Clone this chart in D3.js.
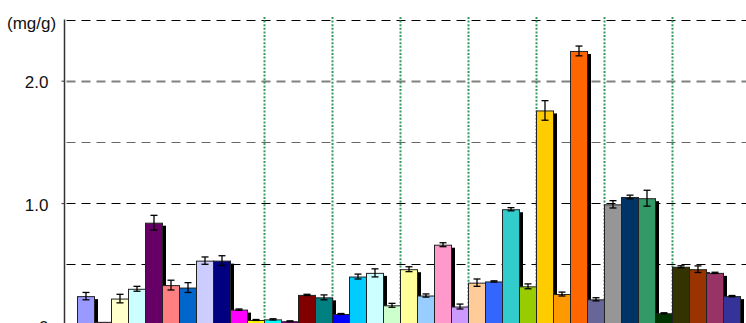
<!DOCTYPE html>
<html>
<head>
<meta charset="utf-8">
<script src="https://cdn.jsdelivr.net/npm/d3@7"></script>
<style>
  html, body { margin: 0; padding: 0; background: #fff; overflow: hidden; }
  svg { display: block; }
  text { font-family: "Liberation Sans", Arial, sans-serif; }
</style>
</head>
<body>
<svg id="chart" width="746" height="323"></svg>
<script>
// ---- data ----
const categories = ["S1","S2","S3","S4","S5","S6","S7","S8","S9","S10",
  "S11","S12","S13","S14","S15","S16","S17","S18","S19","S20",
  "S21","S22","S23","S24","S25","S26","S27","S28","S29","S30",
  "S31","S32","S33","S34","S35","S36","S37","S38","S39"];
const values = [0.24,0.03,0.22,0.30,0.84,0.33,0.31,0.53,0.53,0.13,
  0.045,0.05,0.035,0.25,0.23,0.094,0.40,0.43,0.165,0.46,
  0.245,0.66,0.155,0.35,0.36,0.95,0.32,1.757,0.257,2.243,
  0.214,0.99,1.05,1.04,0.10,0.48,0.46,0.43,0.24];
const errors = [0.03,0,0.035,0.02,0.06,0.04,0.04,0.03,0.04,0.005,
  0.004,0.005,0.003,0.005,0.02,0.004,0.02,0.033,0.016,0.02,
  0.013,0.016,0.02,0.03,0.005,0.013,0.02,0.08,0.016,0.04,
  0.013,0.03,0.015,0.065,0.004,0.008,0.027,0.005,0.005];
const colors = ["#9999FF","#993366","#FFFFCC","#CCFFFF","#660066","#FF8080","#0066CC","#CCCCFF","#000080","#FF00FF",
  "#FFFF00","#00FFFF","#800080","#800000","#008080","#0000FF","#00CCFF","#CCFFFF","#CCFFCC","#FFFF99",
  "#99CCFF","#FF99CC","#CC99FF","#FFCC99","#3366FF","#33CCCC","#99CC00","#FFCC00","#FF9900","#FF6600",
  "#666699","#969696","#003366","#339966","#003300","#333300","#993300","#993366","#333399"];
const separators = ["S12","S16","S20","S24","S28","S32","S36"];
const gridValues = [0.5, 1.0, 1.5, 2.0, 2.5];
const tickValues = [0, 1.0, 2.0];
const tickLabels = ["0", "1.0", "2.0"];
const unitLabel = "(mg/g)";

// ---- layout ----
const svg = d3.select("#chart");
const axisX = 64.5;
const x = d3.scaleBand().domain(categories).range([77, 740]).paddingInner(0).paddingOuter(0);
const y = d3.scaleLinear().domain([0, 2.5]).range([325.5, 19.5]);

// gridlines
const gridStyle = v => v === 2.0 ? {c:"#808080", w:2} : (v === 1.5 ? {c:"#666666", w:1} : {c:"#000000", w:1});
svg.append("g").selectAll("line").data(gridValues).join("line")
  .attr("x1", axisX).attr("x2", 746)
  .attr("y1", d => Math.round(y(d)) + 0.5).attr("y2", d => Math.round(y(d)) + 0.5)
  .attr("stroke", d => gridStyle(d).c)
  .attr("stroke-width", d => gridStyle(d).w)
  .attr("stroke-dasharray", "9,6")
  .attr("stroke-dashoffset", -2);

// vertical dotted separators
svg.append("g").selectAll("line").data(separators).join("line")
  .attr("x1", d => x(d) + 0.5).attr("x2", d => x(d) + 0.5)
  .attr("y1", 17).attr("y2", 323)
  .attr("stroke", "#339966").attr("stroke-width", 2)
  .attr("stroke-dasharray", "2,1.6");

// bars with drop shadow (drawn sequentially)
const bw = x.bandwidth();
const data = categories.map((c, i) => ({c, v: values[i], e: errors[i], col: colors[i]}));
const bars = svg.append("g");
data.forEach(d => {
  const g = bars.append("g");
  g.append("rect")
    .attr("x", x(d.c) + 4).attr("y", y(d.v) + 3)
    .attr("width", bw).attr("height", Math.max(0, y(0) - y(d.v)))
    .attr("fill", "#000");
  g.append("rect")
    .attr("x", x(d.c) + 0.5).attr("y", y(d.v) + 0.5)
    .attr("width", bw).attr("height", Math.max(0, y(0) - y(d.v)))
    .attr("fill", d.col)
    .attr("stroke", "#222").attr("stroke-width", 1);
});

// error bars
const eb = svg.append("g").attr("stroke", "#000").attr("stroke-width", 1.3);
data.filter(d => d.e > 0).forEach(d => {
  const cx = x(d.c) + bw / 2 + 0.5;
  const y1 = y(d.v + d.e), y2 = y(d.v - d.e);
  eb.append("line").attr("x1", cx).attr("x2", cx).attr("y1", y1).attr("y2", y2);
  eb.append("line").attr("x1", cx - 3.5).attr("x2", cx + 3.5).attr("y1", y1).attr("y2", y1);
  eb.append("line").attr("x1", cx - 3.5).attr("x2", cx + 3.5).attr("y1", y2).attr("y2", y2);
});

// y axis
const yAxis = d3.axisLeft(y).tickValues(tickValues)
  .tickFormat((d, i) => tickLabels[i]).tickSize(3).tickPadding(13);
const ag = svg.append("g").attr("transform", `translate(${axisX},0)`).call(yAxis);
ag.select(".domain").remove();
ag.selectAll(".tick line").attr("stroke", "#333");
ag.selectAll(".tick text").attr("font-size", 17).attr("fill", "#111").attr("dy", "0.42em")
  .attr("font-family", "'Liberation Sans', Arial, sans-serif");
svg.append("line").attr("x1", axisX).attr("x2", axisX).attr("y1", 19.5).attr("y2", 323)
  .attr("stroke", "#333").attr("stroke-width", 1.5);

svg.append("text").attr("x", 7).attr("y", 29)
  .attr("font-size", 17).attr("fill", "#111").text(unitLabel);
</script>
</body>
</html>
